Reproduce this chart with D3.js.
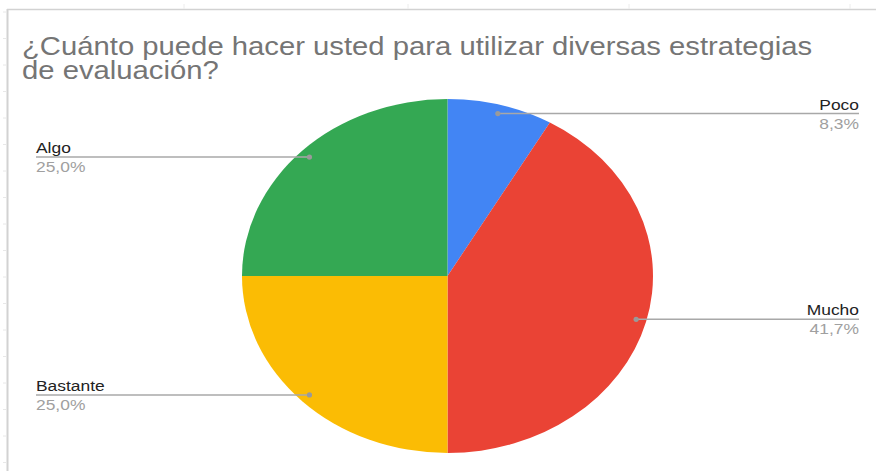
<!DOCTYPE html>
<html>
<head>
<meta charset="utf-8">
<script src="https://cdn.jsdelivr.net/npm/d3@7"></script>
<style>
  body { margin: 0; background: #fff; }
  text { font-family: "Liberation Sans", Arial, sans-serif; }
</style>
</head>
<body>
<svg id="chart" width="876" height="471"></svg>
<script>
// Survey answers and their shares (percent)
const titleLines = ["¿Cuánto puede hacer usted para utilizar diversas estrategias", "de evaluación?"];
const categories = ["Poco", "Mucho", "Bastante", "Algo"];
const percentages = [8.3, 41.7, 25.0, 25.0];
const colors = ["#4285F4", "#EA4335", "#FBBC04", "#34A853"];

const W = 876, H = 471;
const sx = 1.161;            // horizontal stretch of the whole drawing
const cx = 447.5, cy = 276;  // pie centre
const R = 177;               // pie radius (vertical)
const rightEdge = 859, leftEdge = 36;

const svg = d3.select("#chart");
const fmt = v => d3.format(".1f")(v).replace(".", ",") + "%";

// sheet frame
const frame = svg.append("g").attr("stroke", "#d2d2d2").attr("fill", "none");
frame.append("line").attr("x1", 7).attr("x2", W).attr("y1", 9.5).attr("y2", 9.5).attr("stroke-width", 1.5);
frame.append("line").attr("x1", 7.5).attr("x2", 7.5).attr("y1", 9).attr("y2", H).attr("stroke-width", 2);
const rowTicks = d3.range(12, H, 26.5);
frame.selectAll(".rt").data(rowTicks).join("line")
  .attr("x1", 3).attr("x2", 7).attr("y1", d => d).attr("y2", d => d)
  .attr("stroke", "#e8e8e8").attr("stroke-width", 1);
const colTicks = [184, 408, 629, 850];
frame.selectAll(".ct").data(colTicks).join("line")
  .attr("x1", d => d).attr("x2", d => d).attr("y1", 4).attr("y2", 9)
  .attr("stroke", "#ececec").attr("stroke-width", 1);

// title
const tg = svg.append("g").attr("transform", `scale(${sx},1)`);
const titleFont = 25.2;
tg.selectAll("text.title").data(titleLines).join("text")
  .attr("class", "title")
  .attr("x", 22 / sx)
  .attr("y", (d, i) => 55 + i * 24)
  .attr("font-size", titleFont)
  .attr("fill", "#757575")
  .text(d => d);

// pie
const pie = d3.pie().sort(null).value(d => d.v);
const data = categories.map((c, i) => ({ name: c, v: percentages[i], color: colors[i] }));
const arcs = pie(data);
const arc = d3.arc().innerRadius(0).outerRadius(R);
const pg = svg.append("g").attr("transform", `translate(${cx},${cy}) scale(${sx},1)`);
pg.selectAll("path").data(arcs).join("path")
  .attr("d", arc)
  .attr("fill", d => d.data.color);

// leader lines and labels
const anchorArc = d3.arc().innerRadius(R * 0.95).outerRadius(R * 0.95);
const lg = svg.append("g");
const txt = svg.append("g").attr("transform", `scale(${sx},1)`);
arcs.forEach(a => {
  const c = anchorArc.centroid(a);
  const px = cx + c[0] * sx, py = cy + c[1];
  const right = (a.startAngle + a.endAngle) / 2 < Math.PI;
  const x2 = right ? rightEdge : leftEdge;
  lg.append("line").attr("x1", px).attr("x2", x2).attr("y1", py).attr("y2", py)
    .attr("stroke", "#a8a8a8").attr("stroke-width", 1.5);
  lg.append("circle").attr("cx", px).attr("cy", py).attr("r", 2.6).attr("fill", "#9a9a9a");
  txt.append("text").attr("x", x2 / sx).attr("y", py - 4)
    .attr("text-anchor", right ? "end" : "start")
    .attr("font-size", 15).attr("fill", "#222").text(a.data.name);
  txt.append("text").attr("x", x2 / sx).attr("y", py + 15)
    .attr("text-anchor", right ? "end" : "start")
    .attr("font-size", 15).attr("fill", "#a0a0a0").text(fmt(a.data.v));
});
</script>
</body>
</html>
